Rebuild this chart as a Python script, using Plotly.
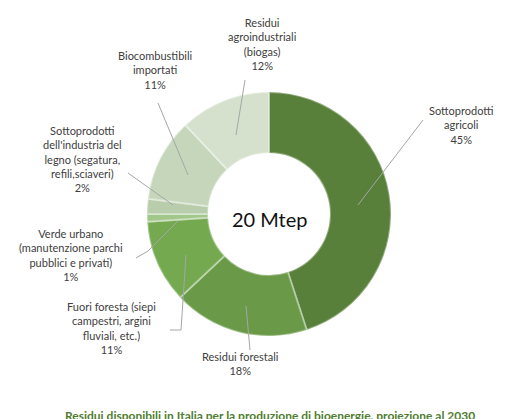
import plotly.graph_objects as go

W, H = 524, 419

labels = ["Sottoprodotti agricoli", "Residui forestali", "Fuori foresta", "Verde urbano",
          "Sottoprodotti dell'industria del legno", "Biocombustibili importati",
          "Residui agroindustriali"]
values = [45, 18, 11, 1, 2, 11, 12]
colors = ["#58803a", "#6a9a48", "#74a94f", "#a2c78a", "#b8cdab", "#c5d6bb", "#d5e1cd"]

label_texts = [
    "Sottoprodotti<br>agricoli<br>45%",
    "Residui forestali<br>18%",
    "Fuori foresta (siepi<br>campestri, argini<br>fluviali, etc.)<br>11%",
    "Verde urbano<br>(manutenzione parchi<br>pubblici e privati)<br>1%",
    "Sottoprodotti<br>dell'industria del<br>legno (segatura,<br>refili,sciaveri)<br>2%",
    "Biocombustibili<br>importati<br>11%",
    "Residui<br>agroindustriali<br>(biogas)<br>12%",
]
# label centres in pixels
label_pos = [(453, 117), (232, 355), (103, 320), (63, 247), (74, 151), (147, 62), (254, 36)]
# leader lines in pixels
leaders = [
    [(350, 197), (415, 112)],
    [(238, 298), (242, 342)],
    [(178, 247), (173, 322), (162, 322)],
    [(170, 213), (140, 243), (128, 250)],
    [(165, 197), (120, 165)],
    [(180, 167), (150, 95)],
    [(228, 127), (237, 72)],
]


def px(x, y):
    return x / W, 1 - y / H


cx, cy, r = 261, 206, 122
fig = go.Figure(go.Pie(
    labels=labels, values=values, sort=False, direction="clockwise", rotation=0,
    hole=0.5, textinfo="none", hoverinfo="label+percent",
    marker=dict(colors=colors, line=dict(color="rgba(255,255,255,0.35)", width=2)),
    domain=dict(x=[(cx - r) / W, (cx + r) / W], y=[1 - (cy + r) / H, 1 - (cy - r) / H]),
))

font = dict(family="Lato, Open Sans, sans-serif", size=11, color="#404040")
ann = []
for t, (x, y) in zip(label_texts, label_pos):
    ax, ay = px(x, y)
    ann.append(dict(text=t, x=ax, y=ay, xref="paper", yref="paper", showarrow=False,
                    xanchor="center", yanchor="middle", font=font, align="center"))
ax, ay = px(262, 211)
ann.append(dict(text="20 Mtep", x=ax, y=ay, xref="paper", yref="paper", showarrow=False,
                xanchor="center", yanchor="middle",
                font=dict(family="Lato, Open Sans, sans-serif", size=20, color="#111111")))
ax, ay = px(262, 407)
ann.append(dict(text="<b>Residui disponibili in Italia per la produzione di bioenergie, proiezione al 2030</b>",
                x=ax, y=ay, xref="paper", yref="paper", showarrow=False,
                xanchor="center", yanchor="middle",
                font=dict(family="Lato, Open Sans, sans-serif", size=12, color="#4e7d2e")))

shapes = []
for pts in leaders:
    path = "M " + " L ".join(f"{px(x, y)[0]},{px(x, y)[1]}" for x, y in pts)
    shapes.append(dict(type="path", path=path, xref="paper", yref="paper",
                       line=dict(color="#a6a6a6", width=1)))

fig.update_layout(width=W, height=H, margin=dict(l=0, r=0, t=0, b=0), showlegend=False,
                  paper_bgcolor="white", annotations=ann, shapes=shapes)
fig.write_html("out.html")
